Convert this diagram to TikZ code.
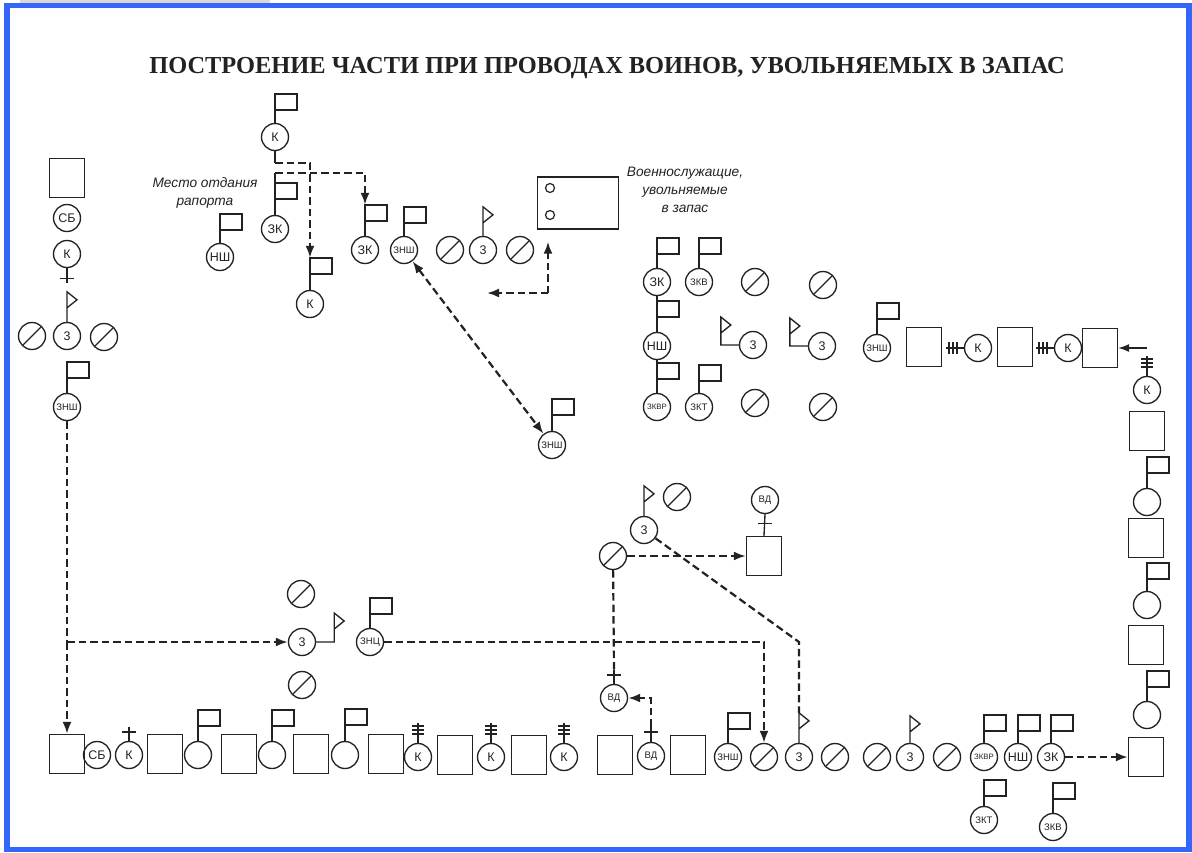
\documentclass[tikz,border=0pt]{standalone}
\usepackage{fontspec}
\setmainfont{Liberation Serif}
\setsansfont{Liberation Sans}
\usetikzlibrary{arrows.meta,calc}
\definecolor{ink}{RGB}{34,34,34}
\definecolor{frameBlue}{RGB}{52,102,250}
\tikzset{
  pole/.style={draw=ink, line width=1.35pt},
  ucirc/.style={circle, draw=ink, line width=1.35pt, minimum size=27pt, inner sep=0pt,
                text=ink, font=\sffamily\fontsize{12.5}{12.5}\selectfont},
  usmall/.style={ucirc, font=\sffamily\fontsize{9.5}{9.5}\selectfont},
  utiny/.style={ucirc, font=\sffamily\fontsize{7.8}{7.8}\selectfont},
  uzero/.style={ucirc, path picture={\draw[line width=1.35pt, ink]
                (path picture bounding box.south west) -- (path picture bounding box.north east);}},
  ubox/.style={rectangle, draw=ink, line width=1.35pt, minimum width=35pt, minimum height=39pt},
  dashline/.style={draw=ink, line width=2.2pt, dash pattern=on 7.5pt off 4pt},
  route/.style={dashline, -{Latex[length=12pt,width=9pt]}},
  route2/.style={dashline, {Latex[length=12pt,width=9pt]}-{Latex[length=12pt,width=9pt]}},
  note/.style={font=\sffamily\itshape\fontsize{13.7}{18}\selectfont, align=center, text=ink},
}
% flag, pennant, cross and tick marks on a unit sign
\newcommand{\pflag}[2][30]{\draw[pole] (#2.north) -- ++(0,-#1) coordinate (#2-top) rectangle ++(22,16);}
\newcommand{\ppennant}[2][29]{\draw[pole] (#2.north) -- ++(0,-#1) coordinate (#2-top) -- ++(10,8) -- ++(-10,8);}
\newcommand{\lpennant}[1]{\draw[pole] (#1.west) -- ++(-18,0) -- ++(0,-28) -- ++(10,8) -- ++(-10,8);}
\newcommand{\rpennant}[1]{\draw[pole] (#1.east) -- ++(18,0) -- ++(0,-29) -- ++(10,8) -- ++(-10,8);}
\newcommand{\crossup}[2][14]{\draw[pole] (#2.north) -- ++(0,-#1) coordinate (#2-top) ++(-7,5) -- ++(14,0);}
\newcommand{\tickup}[1]{\draw[pole] (#1.north) -- ++(0,-20) ++(-6,3) -- ++(12,0) ++(-12,4) -- ++(12,0) ++(-12,4) -- ++(12,0);}
\newcommand{\tickleft}[1]{\draw[pole] (#1.west) -- ++(-18,0) ++(3,-6) -- ++(0,12) ++(4,-12) -- ++(0,12) ++(4,-12) -- ++(0,12);}
\begin{document}
\begin{tikzpicture}[x=1pt,y=-1pt]
  \useasboundingbox (0,0) rectangle (1192,852);
  \fill[gray!30] (20,0) rectangle (270,3);
  \draw[frameBlue, line width=5.5pt] (7,5.5) rectangle (1189,849.5);

  \node[anchor=base, text=ink, font=\bfseries\fontsize{24.4}{24.4}\selectfont] (title) at (607,73)
       {ПОСТРОЕНИЕ ЧАСТИ ПРИ ПРОВОДАХ ВОИНОВ, УВОЛЬНЯЕМЫХ В ЗАПАС};

  % left column
  \node[ubox] (lbox) at (67,178) {};
  \node[ucirc] (lsb) at (67,218) {СБ};
  \node[ucirc] (lk) at (67,254) {К};
  \draw[pole] (lk.south) -- ++(0,15) ++(-7,-5) -- ++(14,0);
  \node[uzero] (lz1) at (32,336) {};
  \node[ucirc] (l3) at (67,336) {3};
  \ppennant[30]{l3}
  \node[uzero] (lz2) at (104,337) {};
  \node[usmall] (lznsh) at (67,407) {ЗНШ};
  \pflag[31]{lznsh}

  % reporting place
  \node[ucirc] (tk) at (275,137) {К};
  \pflag[29]{tk}
  \node[ucirc] (tzk) at (275,229) {ЗК};
  \pflag[32]{tzk}
  \draw[pole] (tzk.north) -- ++(0,-42) coordinate (tzkend);
  \draw[pole] (tk.south) -- ++(0,12) coordinate (tkfork);
  \node[ucirc] (tk2) at (310,304) {К};
  \pflag[32]{tk2}
  \node[ucirc] (nsh) at (220,257) {НШ};
  \pflag[29]{nsh}
  \node[note] (placenote) at (205,193) {Место отдания\\рапорта};
  \node[ucirc] (mzk) at (365,250) {ЗК};
  \pflag[31]{mzk}
  \node[usmall] (mznsh) at (404,250) {ЗНШ};
  \pflag[29]{mznsh}
  \node[uzero] (mz1) at (450,250) {};
  \node[ucirc] (m3t) at (483,250) {3};
  \ppennant[29]{m3t}
  \node[uzero] (mz2) at (520,250) {};
  \draw[route] (tkfork) -| (tk2-top);
  \draw[route] (tzkend) -| (mzk-top);

  % discharged servicemen
  \node[rectangle, draw=ink, line width=1.35pt, minimum width=81pt, minimum height=52pt] (vbox) at (578,203) {};
  \node[circle, draw=ink, line width=1.2pt, minimum size=9pt, inner sep=0pt] (vdot1) at (550,188) {};
  \node[circle, draw=ink, line width=1.2pt, minimum size=9pt, inner sep=0pt] (vdot2) at (550,215) {};
  \node[note] (vnote) at (685,190) {Военнослужащие,\\увольняемые\\в запас};
  \coordinate (vcorner) at (548,293);
  \coordinate (vleft) at (487,293);
  \draw[route, shorten >=12pt] (vcorner) -- (vcorner |- vbox.south);
  \draw[route] (vcorner) -- (vleft);

  \node[usmall] (mznsh2) at (552,445) {ЗНШ};
  \pflag[32]{mznsh2}
  \draw[route2] (mznsh) -- (mznsh2);

  % command group
  \node[ucirc] (gzk) at (657,282) {ЗК};
  \pflag[30]{gzk}
  \node[usmall] (gzkv) at (699,282) {ЗКВ};
  \pflag[30]{gzkv}
  \node[uzero] (gz1) at (755,282) {};
  \node[uzero] (gz2) at (823,285) {};
  \node[ucirc] (gnsh) at (657,346) {НШ};
  \draw[pole] (gnsh.north) -- (gzk.south);
  \pflag[31]{gnsh}
  \node[ucirc] (g3a) at (753,345) {3};
  \lpennant{g3a}
  \node[ucirc] (g3b) at (822,346) {3};
  \lpennant{g3b}
  \node[utiny] (gzkvr) at (657,407) {ЗКВР};
  \draw[pole] (gzkvr.north) -- (gnsh.south);
  \pflag[30]{gzkvr}
  \node[usmall] (gzkt) at (699,407) {ЗКТ};
  \pflag[28]{gzkt}
  \node[uzero] (gz3) at (755,403) {};
  \node[uzero] (gz4) at (823,407) {};

  % top right row
  \node[usmall] (tznsh) at (877,348) {ЗНШ};
  \pflag[31]{tznsh}
  \node[ubox] (tb1) at (924,347) {};
  \node[ucirc] (tkc1) at (978,348) {К};
  \tickleft{tkc1}
  \node[ubox] (tb2) at (1015,347) {};
  \node[ucirc] (tkc2) at (1068,348) {К};
  \tickleft{tkc2}
  \node[ubox] (tb3) at (1100,348) {};
  \coordinate (rarr) at (1147,348);
  \draw[pole, -{Latex[length=11pt,width=8pt]}] (rarr) -- (tb3);

  % right column
  \node[ucirc] (rk) at (1147,390) {К};
  \tickup{rk}
  \node[ubox] (rb3) at (1147,431) {};
  \node[ucirc] (rc3) at (1147,502) {};
  \pflag[31]{rc3}
  \node[ubox] (rb2) at (1146,538) {};
  \node[ucirc] (rc2) at (1147,605) {};
  \pflag[28]{rc2}
  \node[ubox] (rb1) at (1146,645) {};
  \node[ucirc] (rc1) at (1147,715) {};
  \pflag[30]{rc1}
  \node[ubox] (rb0) at (1146,757) {};

  % lower middle group
  \node[ucirc] (p3) at (644,530) {3};
  \ppennant[30]{p3}
  \node[uzero] (pz1) at (677,497) {};
  \node[uzero] (pz2) at (613,556) {};
  \node[ubox] (pbox) at (764,556) {};
  \node[usmall] (pvd) at (765,500) {ВД};
  \draw[pole] (pvd.south) -- (pbox.north);
  \draw[pole] ($(pvd.south)+(-7,9)$) -- ++(14,0);
  \draw[route] (pz2) -- (pbox);
  \node[usmall] (uvd) at (614,698) {ВД};
  \crossup[14]{uvd}
  \draw[dashline] (pz2) -- (uvd-top);

  % middle left group
  \node[uzero] (mz3) at (301,594) {};
  \node[ucirc] (m3) at (302,642) {3};
  \rpennant{m3}
  \node[uzero] (mz4) at (302,685) {};
  \node[usmall] (mznc) at (370,642) {ЗНЦ};
  \pflag[30]{mznc}

  % bottom row
  \node[ubox] (b1) at (67,754) {};
  \node[ucirc] (bsb) at (97,755) {СБ};
  \node[ucirc] (bk) at (129,755) {К};
  \crossup[14]{bk}
  \node[ubox] (b2) at (165,754) {};
  \node[ucirc] (bc1) at (198,755) {};
  \pflag[31]{bc1}
  \node[ubox] (b3) at (239,754) {};
  \node[ucirc] (bc2) at (272,755) {};
  \pflag[31]{bc2}
  \node[ubox] (b4) at (311,754) {};
  \node[ucirc] (bc3) at (345,755) {};
  \pflag[32]{bc3}
  \node[ubox] (b5) at (386,754) {};
  \node[ucirc] (bk2) at (418,757) {К};
  \tickup{bk2}
  \node[ubox] (b6) at (455,755) {};
  \node[ucirc] (bk3) at (491,757) {К};
  \tickup{bk3}
  \node[ubox] (b7) at (529,755) {};
  \node[ucirc] (bk4) at (564,757) {К};
  \tickup{bk4}
  \node[ubox] (b8) at (615,755) {};
  \node[usmall] (bvd) at (651,756) {ВД};
  \crossup[15]{bvd}
  \node[ubox] (b9) at (688,755) {};
  \node[usmall] (bznsh) at (728,757) {ЗНШ};
  \pflag[30]{bznsh}
  \node[uzero] (bz1) at (764,757) {};
  \node[ucirc] (b3c) at (799,757) {3};
  \ppennant[30]{b3c}
  \node[uzero] (bz2) at (835,757) {};
  \node[uzero] (bz3) at (877,757) {};
  \node[ucirc] (b3d) at (910,757) {3};
  \ppennant[27]{b3d}
  \node[uzero] (bz4) at (947,757) {};
  \node[utiny] (bzkvr) at (984,757) {ЗКВР};
  \pflag[28]{bzkvr}
  \node[ucirc] (bnsh) at (1018,757) {НШ};
  \pflag[28]{bnsh}
  \node[ucirc] (bzk) at (1051,757) {ЗК};
  \pflag[28]{bzk}
  \node[usmall] (bzkt) at (984,820) {ЗКТ};
  \pflag[26]{bzkt}
  \node[usmall] (bzkv) at (1053,827) {ЗКВ};
  \pflag[30]{bzkv}

  % routes
  \coordinate (ljoin) at (67,642);
  \coordinate (pbend) at (799,642);
  \draw[dashline] (lznsh) -- (ljoin);
  \draw[route] (ljoin) -- (b1);
  \draw[route] (ljoin) -- (m3);
  \draw[route] (mznc) -| (bz1);
  \draw[dashline] (p3) -- (pbend) -- (b3c-top);
  \draw[route] (bvd-top) |- (uvd.east);
  \draw[route] (bzk) -- (rb0);
\end{tikzpicture}
\end{document}
